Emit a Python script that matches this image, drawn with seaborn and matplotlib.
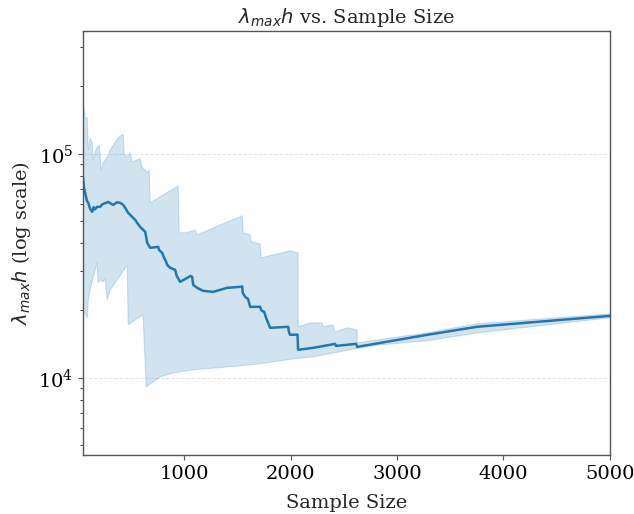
import numpy as np
import seaborn as sns
import matplotlib.pyplot as plt

# mean of lambda_max * h by sample size
mean_n = [50, 60, 70, 85, 99, 115, 136, 150, 160, 183, 211, 230, 250, 286, 310, 333, 370,
          399, 427, 450, 474, 500, 540, 560, 587, 610, 634, 645, 653, 681, 756, 765, 793,
          810, 830, 840, 869, 915, 930, 962, 1060, 1075, 1085, 1122, 1178, 1272, 1404,
          1526, 1545, 1550, 1573, 1600, 1620, 1714, 1725, 1752, 1770, 1789, 1808, 1977,
          1985, 1995, 2065, 2070, 2211, 2418, 2425, 2437, 2615, 2625, 3282, 3751, 5000]
mean_val = [78100, 70000, 67000, 62000, 60400, 57000, 55100, 57800, 56500, 58000, 58000,
            59500, 60000, 61000, 60000, 59200, 60800, 60400, 59200, 57000, 54500, 53000,
            50700, 49000, 47200, 46000, 44850, 42000, 40050, 38050, 38440, 37200, 36140,
            34500, 33000, 31950, 30980, 30350, 28500, 26830, 28500, 28240, 26000, 25220,
            24450, 24200, 25220, 25480, 25600, 24000, 22990, 22500, 20750, 20750, 20000,
            19700, 18500, 17600, 16720, 16900, 16000, 15560, 15600, 13340, 13610, 14180,
            13900, 13900, 14180, 13750, 15560, 16900, 18910]

# upper edge of the band
upper_n = [50, 70, 89, 99, 117, 136, 146, 164, 183, 202, 221, 239, 277, 305, 380, 418,
           427, 437, 465, 493, 512, 587, 606, 634, 653, 671, 681, 944, 953, 1028, 1103,
           1122, 1545, 1554, 1620, 1629, 1714, 1723, 1995, 2070, 2071, 2183, 2296, 2305,
           2399, 2418, 2540, 2625, 2626, 3282, 3751, 5000]
upper_val = [170000, 144800, 144800, 104200, 117900, 112000, 94000, 102100, 107500,
             108600, 84800, 91170, 96970, 104200, 117900, 121600, 121600, 99000, 96970,
             101000, 92100, 95000, 86600, 84800, 82300, 84800, 60400, 72000, 44400, 44400,
             45800, 43500, 52900, 44400, 43500, 40450, 39640, 34330, 36900, 36140, 16900,
             17600, 17600, 16900, 17250, 16050, 16720, 16380, 14330, 15880, 17430, 19310]

# lower edge of the band
lower_n = [50, 89, 99, 117, 146, 183, 192, 211, 239, 258, 277, 305, 371, 465, 474, 568,
           606, 615, 643, 709, 775, 897, 1085, 1404, 1714, 2024, 2211, 2653, 2840, 3282,
           3751, 5000]
lower_val = [20120, 18530, 22290, 24710, 28240, 32610, 26550, 27380, 26830, 27960, 22290,
             24710, 27380, 31950, 17250, 18530, 19110, 18530, 9120, 9600, 10100, 10530,
             10860, 11190, 11550, 12150, 12410, 13610, 14040, 14630, 15880, 18530]

sns.set_style("ticks")
plt.rcParams['font.family'] = ['DejaVu Serif']

fig, ax = plt.subplots(figsize=(6.34, 5.14), dpi=100)
fig.subplots_adjust(left=0.131, right=0.962, bottom=0.115, top=0.940)

blue = "#1f77b4"
ax.fill(np.concatenate([upper_n, lower_n[::-1]]),
        np.concatenate([upper_val, lower_val[::-1]]),
        color=blue, alpha=0.2, lw=0.8)
sns.lineplot(x=mean_n, y=mean_val, ax=ax, color=blue, lw=1.8,
             estimator=None, sort=False)

ax.set_yscale("log")
ax.set_xlim(50, 5000)
ax.set_ylim(4530, 354000)
ax.yaxis.grid(True, which="major", ls="--", lw=0.7, color="#dddddd", alpha=0.8)
for s in ax.spines.values():
    s.set_color("#555555")
    s.set_linewidth(1.0)
ax.tick_params(labelsize=14, colors="#555555", labelcolor="black")

ax.set_title(r"$\lambda_{max}h$ vs. Sample Size", fontsize=14)
ax.set_xlabel("Sample Size", fontsize=14, labelpad=8)
ax.set_ylabel(r"$\lambda_{max}h$ (log scale)", fontsize=14)

fig.savefig("out.png", dpi=100)
